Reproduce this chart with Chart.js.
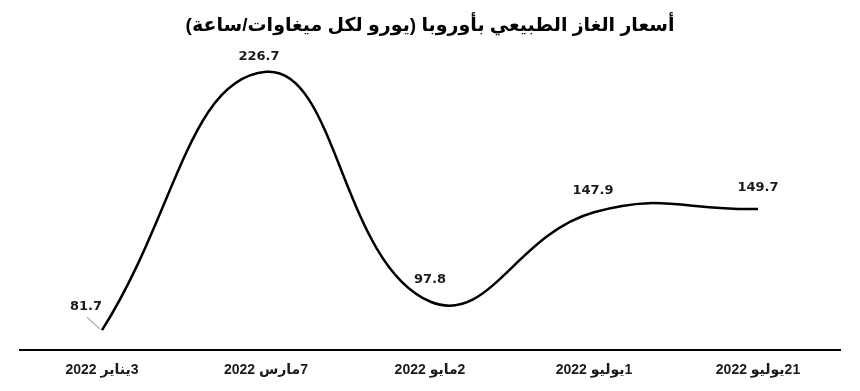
<!DOCTYPE html>
<html>
<head>
<meta charset="utf-8">
<script src="https://cdn.jsdelivr.net/npm/chart.js@4/dist/chart.umd.min.js"></script>
<style>
    html, body { margin: 0; padding: 0; background: #fff; }
    #wrap { width: 860px; height: 391px; }
</style>
</head>
<body>
<div id="wrap"><canvas id="gas-chart" dir="rtl"></canvas></div>
<script>
const chartTitle = 'أسعار الغاز الطبيعي بأوروبا (يورو لكل ميغاوات/ساعة)';
const dateLabels = ['3يناير 2022', '7مارس 2022', '2مايو 2022', '1يوليو 2022', '21يوليو 2022'];
const gasPrices = [81.7, 226.7, 97.8, 147.9, 149.7];

// label placement relative to each point (dx, dy) and whether a leader line is drawn
const labelOffsets = [[-16, -24, true], [-7, -15, false], [0, -22, false], [-1, -22, false], [0, -21, false]];

const valueLabels = {
    id: 'valueLabels',
    afterDatasetsDraw(chart) {
        const ctx = chart.ctx;
        const meta = chart.getDatasetMeta(0);
        ctx.save();
        ctx.font = 'bold 13px "DejaVu Sans", sans-serif';
        ctx.fillStyle = '#1a1a1a';
        ctx.textAlign = 'center';
        ctx.textBaseline = 'middle';
        ctx.direction = 'ltr';
        meta.data.forEach((pt, i) => {
            const [dx, dy, leader] = labelOffsets[i];
            const x = pt.x + dx;
            const y = pt.y + dy;
            if (leader) {
                ctx.strokeStyle = '#a6a6a6';
                ctx.lineWidth = 1.2;
                ctx.beginPath();
                ctx.moveTo(x + 1, y + 11);
                ctx.lineTo(pt.x - 2, pt.y - 1);
                ctx.stroke();
            }
            ctx.fillText(gasPrices[i].toFixed(1), x, y);
        });
        ctx.restore();
    }
};

new Chart(document.getElementById('gas-chart'), {
    type: 'line',
    data: {
        labels: dateLabels,
        datasets: [{
            data: gasPrices,
            borderColor: '#000',
            borderWidth: 2.5,
            tension: 0.45,
            pointRadius: 0,
            fill: false
        }]
    },
    options: {
        responsive: true,
        maintainAspectRatio: false,
        animation: false,
        layout: { padding: { left: 20, right: 20, top: 0, bottom: 0 } },
        plugins: {
            legend: { display: false },
            tooltip: { enabled: false },
            title: {
                display: true,
                text: chartTitle,
                color: '#000',
                font: { family: '"Liberation Sans", "DejaVu Sans", sans-serif', size: 19, weight: 'bold' },
                padding: { top: 14, bottom: 23 }
            }
        },
        scales: {
            x: {
                offset: true,
                grid: { display: false, drawTicks: false },
                border: { display: true, color: '#000', width: 2 },
                ticks: {
                    color: '#1a1a1a',
                    padding: 12,
                    maxRotation: 0,
                    font: { family: '"Liberation Sans", "DejaVu Sans", sans-serif', size: 14, weight: 'bold' }
                }
            },
            y: {
                display: false,
                min: 70.46,
                max: 233.45
            }
        }
    },
    plugins: [valueLabels]
});
</script>
</body>
</html>
